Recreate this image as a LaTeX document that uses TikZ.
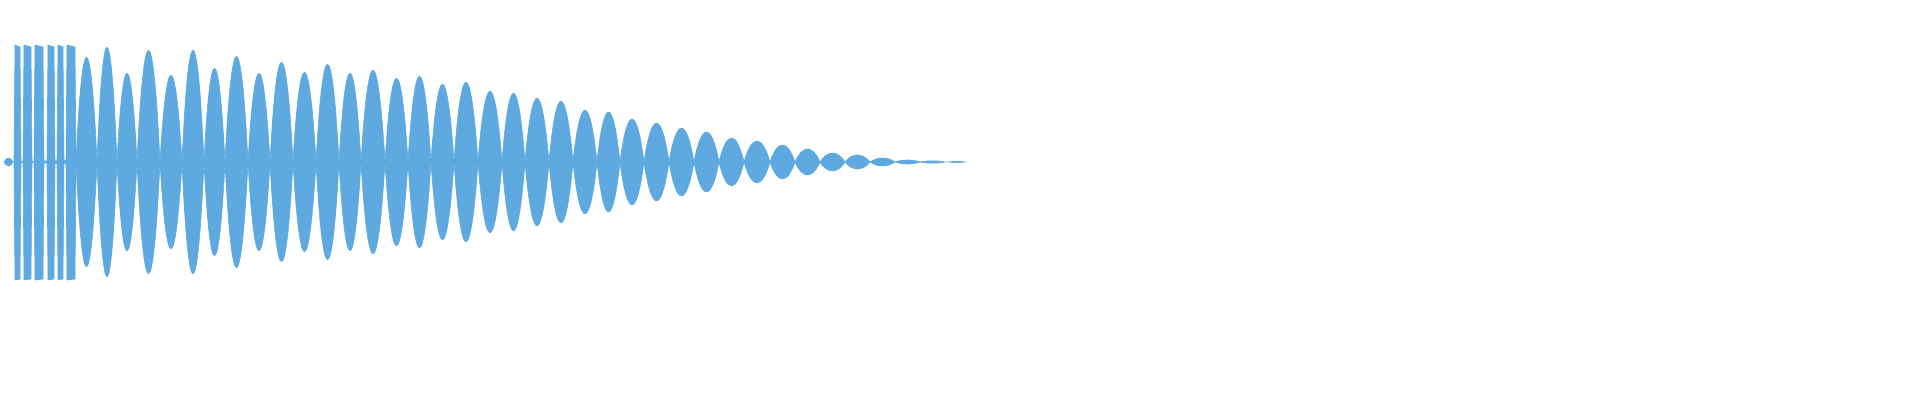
\documentclass[tikz,border=0pt]{standalone}
\definecolor{wave}{HTML}{5DA9E0}
\tikzset{lobe/.style={fill=wave,draw=wave,line width=0.6pt}}
\newcommand{\lobe}[3]{% from, to, amplitude
  \pgfmathsetmacro{\cw}{0.3*(#2-#1)}
  \pgfmathsetmacro{\ch}{1.33*#3}
  \fill[lobe] (#1,162) .. controls (#1+\cw,162-\ch) and (#2-\cw,162-\ch) .. (#2,162)
    .. controls (#2-\cw,162+\ch) and (#1+\cw,162+\ch) .. (#1,162) -- cycle;}
\begin{document}
\begin{tikzpicture}[x=1pt,y=-1pt]
\useasboundingbox (0,0) rectangle (1920,400);
% onset
\lobe{4}{13}{4}
\foreach \a/\b in {14/21,23/32,34/44,47/55,57/64,66/76}
  {\fill[lobe] (\a,162) -- (\a+1,45) -- (\b-1,47) -- (\b,162) -- (\b-1,279) -- (\a+1,280) -- cycle;}
\fill[lobe] (12,162) -- (78,160) -- (78,164) -- cycle;
% decaying lobes
\foreach \a/\b/\h in {76/97/105,97/117/115,117/137/89,137/160/112,160/182/87,182/204/112,
  204/225/94,225/248/106,248/270/89,270/293/100,293/316/90,316/339/98,339/361/89,
  361/385/92,385/408/84,408/431/86,431/454/78,454/478/80,478/502/71,502/525/69,
  525/549/64,549/573/61,573/597/52,597/620/50,620/644/43,644/669/39,669/694/34,
  694/719/30,719/744/24,744/770/21,770/795/17,795/820/13,820/845/9,845/870/7,
  870/895/4,895/920/2,920/945/1.2,948/965/0.6}
  {\lobe{\a}{\b}{\h}}
\end{tikzpicture}
\end{document}
